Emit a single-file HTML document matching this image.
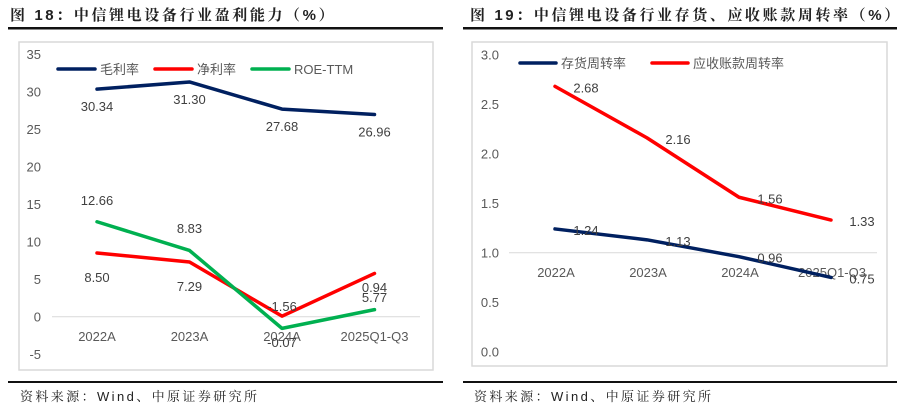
<!DOCTYPE html>
<html><head><meta charset="utf-8">
<style>
html,body{margin:0;padding:0;background:#fff;}
svg{display:block;font-family:"Liberation Sans","Noto Sans CJK SC",sans-serif;}
.t{font-size:15px;font-weight:bold;fill:#222;letter-spacing:2.6px;font-family:"Liberation Sans","Noto Serif CJK SC",serif;}
.ax{font-size:13px;fill:#595959;}
.lb{font-size:13px;fill:#404040;}
.src{font-size:13px;fill:#222;letter-spacing:2.4px;font-family:"Liberation Sans","Noto Serif CJK SC",serif;}
</style></head><body>
<svg id="root" width="913" height="408" viewBox="0 0 913 408">
<text class="t" x="10" y="20">图 18：中信锂电设备行业盈利能力（%）</text>
<rect x="8" y="27" width="435" height="2.5" fill="#111"/>
<rect x="19" y="42" width="414" height="328" fill="none" stroke="#d9d9d9" stroke-width="1.5"/>
<rect x="8" y="381" width="435" height="2" fill="#111"/>
<text class="src" x="20" y="401">资料来源：Wind、中原证券研究所</text>

<text class="t" x="470" y="20">图 19：中信锂电设备行业存货、应收账款周转率（%）</text>
<rect x="463" y="27" width="434" height="2.5" fill="#111"/>
<rect x="472" y="42" width="415" height="324" fill="none" stroke="#d9d9d9" stroke-width="1.5"/>
<rect x="463" y="381" width="434" height="2" fill="#111"/>
<text class="src" x="474" y="401">资料来源：Wind、中原证券研究所</text>

<g id="left"></g>
<g id="right"></g>
</svg>
<script>
const NS='http://www.w3.org/2000/svg';
function mk(p,tag,a){const e=document.createElementNS(NS,tag);for(const k in a)e.setAttribute(k,a[k]);p.appendChild(e);return e;}

// Left chart data
const leftCats=['2022A','2023A','2024A','2025Q1-Q3'];
const grossMargin=[30.34,31.30,27.68,26.96];
const netMargin=[8.50,7.29,0.07,5.77];
const roeTtm=[12.66,8.83,-1.56,0.94];
const leftTicks=[35,30,25,20,15,10,5,0,-5];
const leftTickLabels=['35','30','25','20','15','10','5','0','-5'];
const grossLabels=['30.34','31.30','27.68','26.96'];
const netLabels=['8.50','7.29','-0.07','0.94'];
const roeLabels=['12.66','8.83','-1.56','5.77'];

// Right chart data
const rightCats=['2022A','2023A','2024A','2025Q1-Q3'];
const inventoryTurn=[1.24,1.13,0.96,0.75];
const receivableTurn=[2.68,2.16,1.56,1.33];
const rightTicks=[3.0,2.5,2.0,1.5,1.0,0.5,0.0];
const rightTickLabels=['3.0','2.5','2.0','1.5','1.0','0.5','0.0'];
const invLabels=['1.24','1.13','0.96','0.75'];
const recLabels=['2.68','2.16','1.56','1.33'];

// Left axes
const Ly=v=>316.7-v*7.5;
const Lx=i=>97+i*92.5;
const L=document.getElementById('left');
leftTicks.forEach((t,i)=>{const e=mk(L,'text',{class:'ax',x:41,y:Ly(t)+5,'text-anchor':'end'});e.textContent=leftTickLabels[i];

});
let g0=mk(L,'line',{x1:52,x2:420,y1:Ly(0),y2:Ly(0),stroke:'#d9d9d9','stroke-width':1});


leftCats.forEach((c,i)=>{const e=mk(L,'text',{class:'ax',x:Lx(i),y:341,'text-anchor':'middle'});e.textContent=c;

});
function line(P,vals,X,Y,col,name){const p=mk(P,'polyline',{points:vals.map((v,i)=>X(i)+','+Y(v)).join(' '),fill:'none',stroke:col,'stroke-width':3.5,'stroke-linejoin':'round','stroke-linecap':'round'});

}
line(L,grossMargin,Lx,Ly,'#002060','gross-margin-line');
line(L,netMargin,Lx,Ly,'#ff0000','net-margin-line');
line(L,roeTtm,Lx,Ly,'#00b050','roe-ttm-line');
function lab(P,txt,x,y,name){const e=mk(P,'text',{class:'lb',x:x,y:y,'text-anchor':'middle'});e.textContent=txt;

}
grossLabels.forEach((t,i)=>lab(L,t,Lx(i),Ly(grossMargin[i])+22,'gross-margin-label'));
netLabels.forEach((t,i)=>lab(L,t,Lx(i),[282,291,347,292][i],'net-margin-label'));
roeLabels.forEach((t,i)=>lab(L,t,Lx(i),[205,233,311,302][i],'roe-label'));
// left legend
[['#002060','毛利率',58],['#ff0000','净利率',155],['#00b050','ROE-TTM',252]].forEach(a=>{
const l=mk(L,'line',{x1:a[2],x2:a[2]+37,y1:69,y2:69,stroke:a[0],'stroke-width':3.5,'stroke-linecap':'round'});


const t=mk(L,'text',{class:'ax',x:a[2]+42,y:74});t.textContent=a[1];

});

// Right axes
const Ry=v=>351.7-v*99;
const Rx=i=>555+i*92;
const R=document.getElementById('right');
rightTicks.forEach((t,i)=>{const e=mk(R,'text',{class:'ax',x:499,y:Ry(t)+5,'text-anchor':'end'});e.textContent=rightTickLabels[i];

});
let g1=mk(R,'line',{x1:509,x2:877,y1:Ry(1),y2:Ry(1),stroke:'#d9d9d9','stroke-width':1});


rightCats.forEach((c,i)=>{const e=mk(R,'text',{class:'ax',x:Rx(i)+1,y:277,'text-anchor':'middle'});e.textContent=c;

});
line(R,inventoryTurn,Rx,Ry,'#002060','inventory-turnover-line');
line(R,receivableTurn,Rx,Ry,'#ff0000','receivable-turnover-line');
invLabels.forEach((t,i)=>lab(R,t,Rx(i)+31,Ry(inventoryTurn[i])+6,'inventory-label'));
recLabels.forEach((t,i)=>lab(R,t,Rx(i)+31,Ry(receivableTurn[i])+6,'receivable-label'));
[['#002060','存货周转率',520],['#ff0000','应收账款周转率',652]].forEach(a=>{
const l=mk(R,'line',{x1:a[2],x2:a[2]+36,y1:63,y2:63,stroke:a[0],'stroke-width':3.5,'stroke-linecap':'round'});


const t=mk(R,'text',{class:'ax',x:a[2]+41,y:68});t.textContent=a[1];

});
</script>
</body></html>
